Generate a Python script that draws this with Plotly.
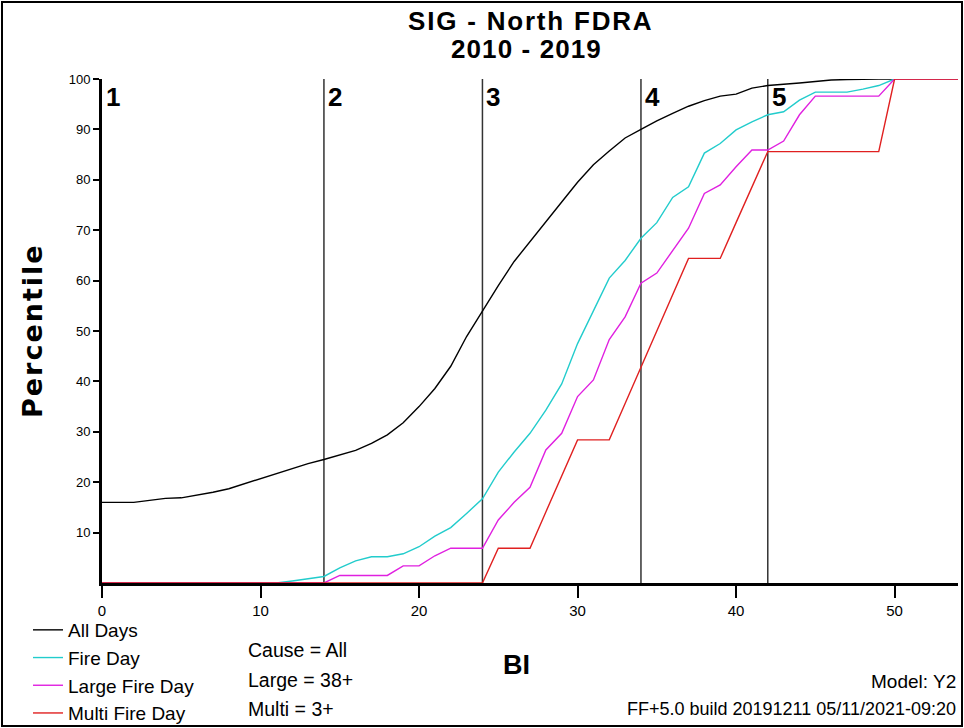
import plotly.graph_objects as go

# ---------------- data ----------------
bi = list(range(0, 55))

all_days = [16, 16, 16, 16.4, 16.8, 16.9, 17.4, 18.0, 18.7, 19.7,
            20.8, 21.8, 22.8, 23.7, 24.5, 25.4, 26.3, 27.7, 29.4, 31.8,
            35.0, 38.6, 43.0, 48.9, 54.0, 59.0, 63.8, 67.8, 71.7, 75.6,
            79.5, 83.0, 85.7, 88.3, 90.0, 91.7, 93.2, 94.6, 95.7, 96.6,
            97.0, 98.2, 98.7, 98.9, 99.2, 99.5, 99.8, 99.9, 100, 100,
            100, 100, 100, 100, 100]

fire_day = [0, 0, 0, 0, 0, 0, 0, 0, 0, 0,
            0, 0, 0.4, 0.8, 1.3, 3.0, 4.4, 5.2, 5.2, 5.8,
            7.2, 9.3, 11.0, 13.8, 16.7, 22.0, 26.0, 29.7, 34.3, 39.5,
            47.5, 54.0, 60.5, 64.0, 68.4, 71.5, 76.5, 78.6, 85.3, 87.2,
            89.9, 91.5, 92.9, 93.5, 95.8, 97.4, 97.4, 97.4, 98.0, 98.7,
            100, 100, 100, 100, 100]

large_fire_day = [0, 0, 0, 0, 0, 0, 0, 0, 0, 0,
                  0, 0, 0, 0, 0, 1.5, 1.5, 1.5, 1.5, 3.4,
                  3.4, 5.4, 6.9, 6.9, 6.9, 12.5, 16.0, 19.0, 26.4, 29.7,
                  37.0, 40.3, 48.3, 52.8, 59.5, 61.5, 66.0, 70.4, 77.3, 79.0,
                  82.6, 85.9, 85.9, 87.7, 92.9, 96.6, 96.6, 96.6, 96.6, 96.6,
                  100, 100, 100, 100, 100]

multi_fire_day = [0, 0, 0, 0, 0, 0, 0, 0, 0, 0,
                  0, 0, 0, 0, 0, 0, 0, 0, 0, 0,
                  0, 0, 0, 0, 0, 6.9, 6.9, 6.9, 14.1, 21.2,
                  28.4, 28.4, 28.4, 35.6, 42.8, 50.0, 57.2, 64.4, 64.4, 64.4,
                  71.5, 78.6, 85.6, 85.6, 85.6, 85.6, 85.6, 85.6, 85.6, 85.6,
                  100, 100, 100, 100, 100]

series_names = ["All Days", "Fire Day", "Large Fire Day", "Multi Fire Day"]
series_colors = ["#000000", "#22CCCC", "#E020E0", "#E02020"]

class_breaks = [0, 14, 24, 34, 42]
class_labels = ["1", "2", "3", "4", "5"]

x_ticks = [0, 10, 20, 30, 40, 50]
y_ticks = [10, 20, 30, 40, 50, 60, 70, 80, 90, 100]

title_line1 = "SIG - North FDRA"
title_line2 = "2010 - 2019"
notes = ["Cause = All", "Large = 38+", "Multi = 3+"]
model_text = "Model: Y2"
build_text = "FF+5.0 build 20191211 05/11/2021-09:20"

# ---------------- layout geometry ----------------
W_FIG, H_FIG = 964, 728
L, R, T, B = 102, 958, 79, 583
PW, PH = R - L, B - T


def px(x):
    return (x - L) / PW


def py(y):
    return (B - y) / PH


FONT = "Liberation Sans, Arial, sans-serif"

fig = go.Figure()
for name, vals, col in zip(series_names,
                           [all_days, fire_day, large_fire_day, multi_fire_day],
                           series_colors):
    fig.add_trace(go.Scatter(x=bi, y=vals, mode="lines", name=name,
                             cliponaxis=False,
                             line=dict(color=col, width=1.4)))

# class break lines
for xb in class_breaks[1:]:
    fig.add_shape(type="line", xref="x", yref="y", x0=xb, x1=xb, y0=0, y1=100,
                  line=dict(color="#333333", width=1.5), layer="below")
for xb, lab in zip(class_breaks, class_labels):
    fig.add_annotation(x=xb, y=py(97), xref="x", yref="paper", text="<b>%s</b>" % lab,
                       showarrow=False, xanchor="left", yanchor="middle", xshift=2,
                       font=dict(family=FONT, size=26, color="black"))

# frame border
fig.add_shape(type="rect", xref="paper", yref="paper",
              x0=px(2), x1=px(962), y0=py(726), y1=py(2),
              line=dict(color="black", width=2))

# titles
fig.add_annotation(x=px(530), y=py(21.5), xref="paper", yref="paper",
                   text='<b><span style="letter-spacing:1.8px">%s</span></b>' % title_line1,
                   showarrow=False, xanchor="center", yanchor="middle",
                   font=dict(family=FONT, size=26, color="black"))
fig.add_annotation(x=px(526), y=py(48.5), xref="paper", yref="paper",
                   text='<b><span style="letter-spacing:1.1px">%s</span></b>' % title_line2,
                   showarrow=False, xanchor="center", yanchor="middle",
                   font=dict(family=FONT, size=26, color="black"))

# axis titles
fig.add_annotation(x=px(32), y=py(331), xref="paper", yref="paper",
                   text='<b><span style="letter-spacing:2px">Percentile</span></b>',
                   showarrow=False, textangle=-90,
                   xanchor="center", yanchor="middle",
                   font=dict(family="DejaVu Sans, sans-serif", size=27, color="black"))
fig.add_annotation(x=px(516), y=py(665), xref="paper", yref="paper",
                   text="<b>BI</b>", showarrow=False,
                   xanchor="center", yanchor="middle",
                   font=dict(family=FONT, size=27, color="black"))

# notes
for txt, yy in zip(notes, [650, 680, 709]):
    fig.add_annotation(x=px(246), y=py(yy), xref="paper", yref="paper",
                       text=txt, showarrow=False, xanchor="left", yanchor="middle",
                       font=dict(family=FONT, size=19.5, color="black"))
fig.add_annotation(x=px(958), y=py(681), xref="paper", yref="paper",
                   text=model_text, showarrow=False, xanchor="right", yanchor="middle",
                   font=dict(family=FONT, size=19, color="black"))
fig.add_annotation(x=px(958), y=py(709), xref="paper", yref="paper",
                   text=build_text, showarrow=False, xanchor="right", yanchor="middle",
                   font=dict(family=FONT, size=18, color="black"))

fig.update_layout(
    width=W_FIG, height=H_FIG,
    margin=dict(l=L, r=W_FIG - R, t=T, b=H_FIG - B, autoexpand=False),
    paper_bgcolor="white", plot_bgcolor="white",
    showlegend=True,
    legend=dict(x=px(28), y=py(611), xanchor="left", yanchor="top",
                bgcolor="rgba(0,0,0,0)", borderwidth=0,
                font=dict(family=FONT, size=19, color="black")),
    xaxis=dict(range=[0, 54], tickvals=x_ticks, ticks="outside", ticklen=12,
               tickwidth=1.5, tickcolor="black", showline=True, linecolor="black",
               linewidth=3, showgrid=False, zeroline=False, layer="below traces",
               tickfont=dict(family=FONT, size=15, color="black")),
    yaxis=dict(range=[0, 100], tickvals=y_ticks, ticks="outside", ticklen=6,
               tickwidth=1.5, tickcolor="black", showline=True, linecolor="black",
               linewidth=3, showgrid=False, zeroline=False, layer="below traces",
               tickfont=dict(family=FONT, size=13, color="black")),
)

fig.write_html("out.html",
               config={"displayModeBar": False},
               post_script="document.body.style.margin='0';"
                           "document.body.style.overflow='hidden';")
